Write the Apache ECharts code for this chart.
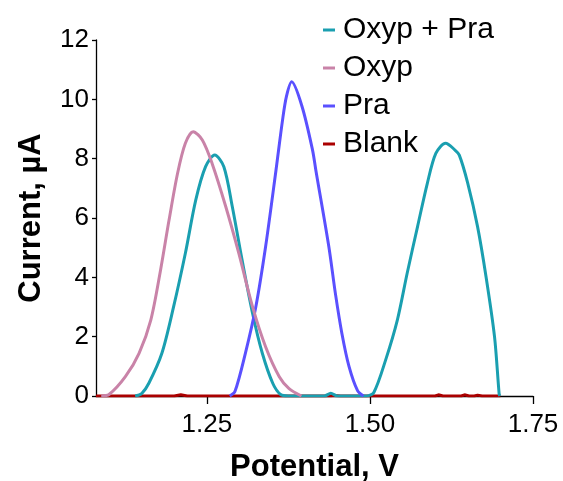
<!DOCTYPE html>
<html>
<head>
<meta charset="utf-8">
<script src="https://cdn.jsdelivr.net/npm/echarts@6/dist/echarts.min.js"></script>
<style>
html,body{margin:0;padding:0;background:#fff;}
#chart{width:563px;height:481px;}
</style>
</head>
<body>
<div id="chart"></div>
<script>
// Data: [potential V, current µA]
var seriesNames = ['Oxyp + Pra', 'Oxyp', 'Pra', 'Blank'];
var xTickLabels = [1.25, 1.50, 1.75];
var yTicks = [0, 2, 4, 6, 8, 10, 12];

var oxypPra = [
  [1.140, 0], [1.150, 0.08], [1.161, 0.43], [1.181, 1.44], [1.199, 3.01], [1.217, 4.81],
  [1.233, 6.61], [1.248, 7.73], [1.262, 8.12], [1.276, 7.73], [1.289, 6.38],
  [1.304, 4.58], [1.320, 2.79], [1.335, 1.44], [1.351, 0.43], [1.363, 0.05],
  [1.375, 0], [1.430, 0], [1.440, 0.09], [1.450, 0], [1.495, 0],
  [1.506, 0.12], [1.524, 1.21], [1.542, 2.56], [1.557, 4.13], [1.573, 5.71],
  [1.588, 7.17], [1.601, 8.18], [1.616, 8.52], [1.630, 8.30], [1.637, 8.12], [1.650, 7.17],
  [1.665, 5.71], [1.678, 4.02], [1.691, 2.00], [1.698, 0.09], [1.699, 0]
];
var oxyp = [
  [1.088, 0], [1.100, 0.05], [1.125, 0.65], [1.146, 1.44], [1.164, 2.56], [1.179, 4.25],
  [1.192, 5.93], [1.205, 7.50], [1.217, 8.52], [1.229, 8.91], [1.243, 8.63],
  [1.258, 7.84], [1.279, 6.38], [1.299, 4.81], [1.320, 3.01], [1.340, 1.66],
  [1.361, 0.65], [1.376, 0.25], [1.395, 0]
];
var pra = [
  [1.285, 0], [1.293, 0.15], [1.309, 1.44], [1.325, 3.00], [1.340, 5.03], [1.356, 7.62],
  [1.366, 9.30], [1.372, 10.1], [1.380, 10.59], [1.396, 9.75], [1.412, 8.29],
  [1.417, 7.62], [1.437, 5.03], [1.447, 3.46], [1.457, 2.11], [1.468, 0.99],
  [1.481, 0.18], [1.490, 0]
];
var blank = [
  [1.080, 0], [1.200, 0], [1.210, 0.04], [1.220, 0], [1.440, 0], [1.445, 0.02],
  [1.455, 0], [1.600, 0], [1.605, 0.04], [1.612, 0], [1.640, 0], [1.645, 0.04],
  [1.652, 0], [1.660, 0], [1.665, 0.03], [1.672, 0], [1.700, 0]
];

var colors = ['#1a9fb0', '#c983a8', '#5a50ff', '#aa0000'];
var seriesData = [oxypPra, oxyp, pra, blank];
var font = '"Liberation Sans", Arial, sans-serif';

var chart = echarts.init(document.getElementById('chart'), null, {renderer: 'canvas'});
var series = seriesNames.map(function (n, i) {
  return {
    name: n,
    type: 'line',
    data: seriesData[i],
    smooth: i === 3 ? false : 0.3,
    showSymbol: false,
    symbol: 'none',
    clip: true,
    lineStyle: {width: 3, color: colors[i]},
    itemStyle: {color: colors[i]},
    z: i === 3 ? 1 : (i === 1 ? 3 : 2),
    animation: false
  };
});

chart.setOption({
  animation: false,
  backgroundColor: '#fff',
  grid: {left: 96, right: 30, top: 40, bottom: 85, containLabel: false, outerBoundsMode: 'none'},
  legend: {
    orient: 'vertical',
    left: 318,
    top: 10,
    icon: 'rect',
    itemWidth: 12,
    itemHeight: 3,
    itemGap: 8,
    textStyle: {fontFamily: font, fontSize: 30, color: '#000', padding: [0, 0, 0, 3]},
    data: seriesNames
  },
  xAxis: {
    type: 'value',
    min: 1.08,
    max: 1.75,
    name: 'Potential, V',
    nameLocation: 'middle',
    nameGap: 56,
    nameTextStyle: {fontFamily: font, fontSize: 31, fontWeight: 'bold', color: '#000'},
    axisLine: {show: true, onZero: false, lineStyle: {color: '#000', width: 1.3}},
    axisTick: {show: true, inside: false, length: 8, customValues: xTickLabels, lineStyle: {color: '#000', width: 1.3}},
    axisLabel: {
      customValues: xTickLabels,
      fontFamily: font, fontSize: 26, color: '#000', margin: 16,
      formatter: function (v) { return v.toFixed(2); }
    },
    splitLine: {show: false}
  },
  yAxis: {
    type: 'value',
    min: 0,
    max: 12,
    interval: 2,
    name: 'Current, µA',
    nameLocation: 'middle',
    nameGap: 49,
    nameTextStyle: {fontFamily: font, fontSize: 31, fontWeight: 'bold', color: '#000'},
    axisLine: {show: true, lineStyle: {color: '#000', width: 1.3}},
    axisTick: {show: true, inside: false, length: 4, lineStyle: {color: '#000', width: 1.3}},
    axisLabel: {fontFamily: font, fontSize: 26, color: '#000', margin: 7,
      formatter: function (v) { return yTicks.indexOf(v) >= 0 ? String(v) : ''; }},
    splitLine: {show: false}
  },
  series: series
});
</script>
</body>
</html>
